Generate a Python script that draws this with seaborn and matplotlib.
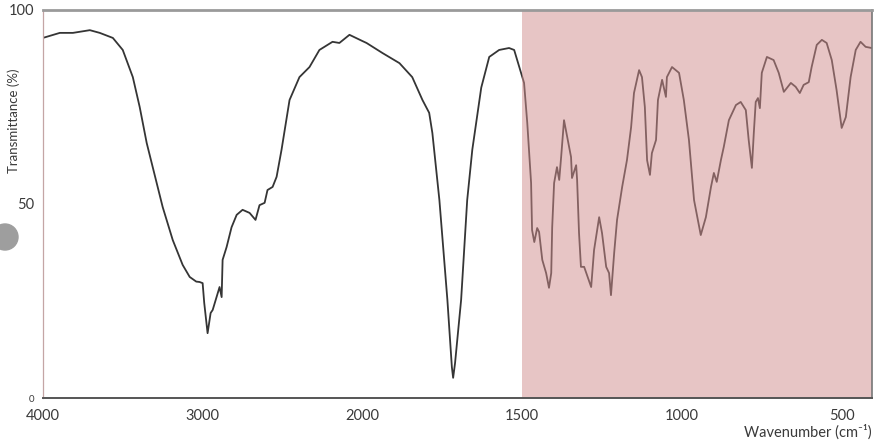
import numpy as np
import pandas as pd
import matplotlib
matplotlib.use("Agg")
import matplotlib.pyplot as plt
import seaborn as sns
from matplotlib.ticker import FixedLocator, NullFormatter
from matplotlib.patches import Ellipse

# -----------------------------
# Data
# -----------------------------
wavenumber = [
    4000, 3894, 3812, 3706, 3644, 3562, 3500, 3437, 3394, 3350,
    3312, 3250, 3187, 3125, 3081, 3040, 3019, 3000, 2990, 2969,
    2950, 2937, 2894, 2881, 2875, 2850, 2819, 2787, 2750, 2706,
    2669, 2644, 2612, 2594, 2562, 2537, 2506, 2456, 2394, 2331,
    2269, 2187, 2144, 2081, 2000, 1987, 1937, 1884, 1844, 1812,
    1791, 1781, 1759, 1734, 1720, 1716, 1710, 1691, 1672, 1656,
    1628, 1603, 1572, 1541, 1525, 1509, 1494, 1484, 1472, 1469,
    1462, 1453, 1447, 1437, 1425, 1416, 1409, 1406, 1400, 1391,
    1384, 1378, 1369, 1359, 1347, 1344, 1331, 1328, 1322, 1316,
    1306, 1297, 1284, 1275, 1259, 1250, 1237, 1228, 1222, 1212,
    1203, 1187, 1172, 1159, 1150, 1134, 1125, 1116, 1109, 1100,
    1094, 1081, 1075, 1062, 1050, 1047, 1031, 1009, 994, 978,
    962, 941, 925, 909, 900, 891, 878, 869, 853, 831,
    816, 800, 791, 781, 775, 769, 762, 756, 750, 734,
    713, 697, 681, 659, 644, 631, 619, 603, 594, 578,
    562, 547, 531, 516, 500, 487, 472, 456, 441, 425,
    406,
]

transmittance = [
    92.8, 94.1, 94.1, 94.8, 94.1, 92.8, 89.7, 82.7, 75.0, 65.7,
    59.5, 49.2, 40.7, 34.3, 31.2, 30.0, 29.9, 29.6, 24.5, 16.7,
    21.9, 22.7, 28.6, 26.0, 35.6, 38.9, 44.0, 47.2, 48.5, 47.7,
    45.9, 49.7, 50.3, 53.6, 54.4, 57.0, 64.0, 76.8, 82.7, 85.3,
    89.7, 91.8, 91.5, 93.6, 92.0, 91.5, 88.9, 86.3, 82.7, 76.8,
    73.5, 68.3, 51.0, 25.3, 8.0, 5.2, 9.0, 25.3, 51.0, 64.0,
    80.0, 87.9, 89.7, 90.2, 89.7, 85.3, 81.2, 70.9, 55.4, 43.3,
    40.2, 43.8, 42.8, 35.6, 32.2, 28.4, 32.2, 44.0, 55.4, 59.5,
    56.2, 62.1, 71.6, 67.3, 62.1, 56.7, 60.0, 56.2, 42.5, 33.8,
    33.8, 31.7, 28.6, 38.1, 46.6, 42.5, 33.8, 32.2, 26.5, 37.4,
    45.9, 54.4, 61.3, 69.8, 78.6, 84.5, 82.7, 75.0, 61.3, 57.5,
    63.1, 66.5, 76.8, 82.0, 77.6, 82.7, 85.3, 83.8, 76.8, 66.5,
    51.0, 42.0, 46.6, 54.4, 58.0, 55.7, 61.3, 64.7, 71.6, 75.5,
    76.3, 74.2, 66.5, 59.3, 68.3, 76.3, 77.3, 74.7, 83.8, 87.9,
    87.1, 83.8, 78.9, 81.2, 80.2, 78.6, 80.7, 81.4, 85.3, 91.0,
    92.3, 91.5, 87.1, 79.4, 69.6, 72.4, 82.7, 89.7, 91.8, 90.5,
    90.2,
]

major_ticks = [4000, 3000, 2000, 1500, 1000, 500]
fingerprint = (1500, 405)

df = pd.DataFrame({"wavenumber": wavenumber, "transmittance": transmittance})

# -----------------------------
# Style
# -----------------------------
sns.set_style("white")
plt.rcParams["font.family"] = ["Lato", "DejaVu Sans"]

fig, ax = plt.subplots(figsize=(8.75, 4.44), dpi=100)
fig.subplots_adjust(left=0.049, right=0.9966, top=0.9775, bottom=0.1036)


# x axis: region above 2000 cm-1 is compressed by a factor 2
def fwd(w):
    w = np.asarray(w, dtype=float)
    return np.where(w >= 2000, 2000 + (w - 2000) / 2, w)


def inv(u):
    u = np.asarray(u, dtype=float)
    return np.where(u >= 2000, 2000 + (u - 2000) * 2, u)


ax.set_xscale("function", functions=(fwd, inv))

# -----------------------------
# Spectrum
# -----------------------------
sns.lineplot(
    data=df,
    x="wavenumber",
    y="transmittance",
    estimator=None,
    color="#353535",
    linewidth=1.3,
    ax=ax,
    zorder=2,
)

ax.axvspan(fingerprint[0], fingerprint[1], color="#d18d8d", alpha=0.5,
           lw=0, zorder=3)

ax.set_xlim(4000, 405)
ax.set_ylim(0, 100)

# -----------------------------
# Ticks
# -----------------------------
ax.xaxis.set_major_locator(FixedLocator(major_ticks))
ax.xaxis.set_major_formatter(plt.FuncFormatter(lambda v, p: f"{int(v)}"))
minor_x = [v for v in range(500, 4000, 100) if v not in major_ticks]
ax.xaxis.set_minor_locator(FixedLocator(minor_x))
ax.xaxis.set_minor_formatter(NullFormatter())

ax.yaxis.set_major_locator(FixedLocator([0, 50, 100]))
ax.yaxis.set_minor_locator(FixedLocator([10, 20, 30, 40, 60, 70, 80, 90]))
ax.yaxis.set_minor_formatter(NullFormatter())

ax.tick_params(axis="x", which="major", direction="out", length=5, width=1.2,
               color="#555555", labelsize=10.5, labelcolor="#3a3a3a", pad=3)
ax.tick_params(axis="x", which="minor", direction="out", length=3, width=1,
               color="#555555")
ax.tick_params(axis="y", which="major", direction="out", length=4, width=1,
               color="#666666", labelsize=10.5, labelcolor="#3a3a3a", pad=2)
ax.tick_params(axis="y", which="minor", direction="out", length=2.5, width=0.8,
               color="#888888")

for lbl in ax.get_yticklabels():
    if lbl.get_text() == "0":
        lbl.set_fontsize(7)

# -----------------------------
# Spines
# -----------------------------
ax.spines["top"].set_color("#9a9a9a")
ax.spines["top"].set_linewidth(2)
ax.spines["bottom"].set_color("#555555")
ax.spines["bottom"].set_linewidth(1.4)
ax.spines["right"].set_color("#777777")
ax.spines["right"].set_linewidth(1.2)
ax.spines["left"].set_color("#c4a5a5")
ax.spines["left"].set_linewidth(0.9)
ax.spines["left"].set_linestyle((0, (1, 1)))
for s in ax.spines.values():
    s.set_zorder(4)

# -----------------------------
# Labels
# -----------------------------
ax.set_xlabel("Wavenumber (cm⁻¹)", fontsize=10.5, color="#3a3a3a",
              ha="right", va="top")
ax.xaxis.set_label_coords(1.0, -0.068)

ax.set_ylabel("Transmittance (%)", fontsize=9.5, color="#3a3a3a")
ax.yaxis.set_label_coords(-0.027, 0.715)

# grey round marker at the left edge
fig.patches.append(Ellipse((5 / 875, 1 - 237 / 444), 26 / 875, 26 / 444,
                           transform=fig.transFigure, color="#9e9e9e",
                           zorder=5))

plt.savefig("out.png", dpi=100)
